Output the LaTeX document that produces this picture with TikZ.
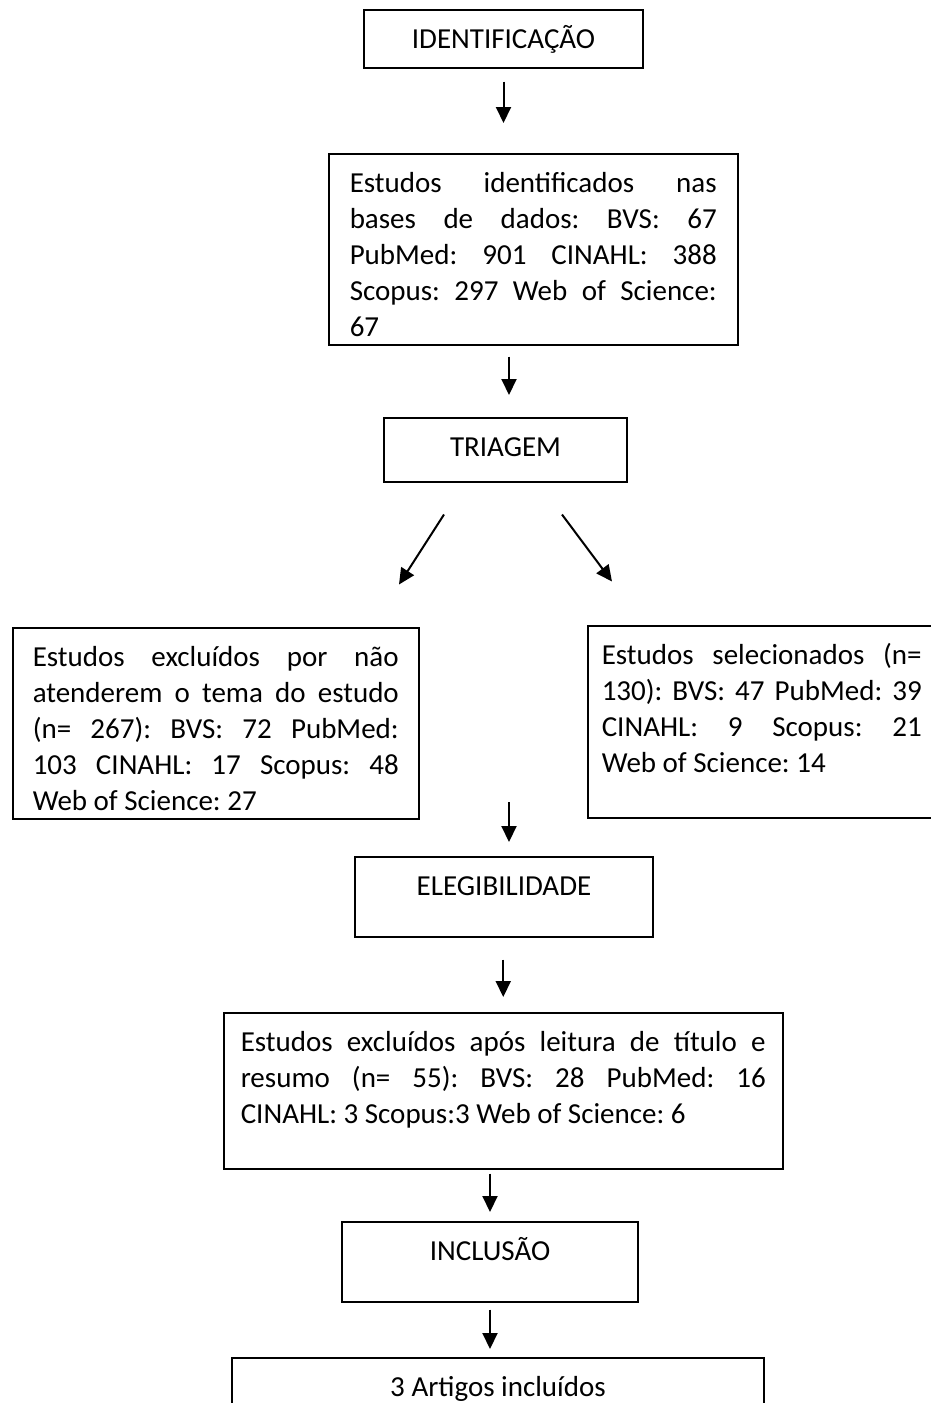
\documentclass[tikz,border=0pt]{standalone}
\usepackage{fontspec}
\setmainfont{Carlito}
\usetikzlibrary{arrows.meta}
\frenchspacing
\begin{document}
\begin{tikzpicture}[x=1pt,y=-1pt,
    etapa/.style={draw,line width=1.5pt,inner xsep=0pt,inner ysep=0pt,text height=39pt,anchor=north,font=\fontsize{29}{36}\selectfont},
    caixa/.style={draw,line width=1.5pt,inner ysep=0pt,text height=39pt,align=justify,anchor=north west,font=\fontsize{29}{36}\selectfont},
    seta/.style={line width=2pt,-{Triangle[width=15pt,length=16pt]}}]
                \useasboundingbox (0,0) rectangle (931,1403);
                \clip (0,0) rectangle (931,1403);
                \node[etapa,minimum width=279pt,text depth=19pt] (ident) at (503.5,9) {IDENTIFICAÇÃO};
                \node[caixa,inner xsep=21pt,text width=367pt,text depth=152pt] (estudos) at (328,153) {Estudos identificados nas\linebreak bases de dados: BVS: 67\linebreak PubMed: 901 CINAHL: 388\linebreak Scopus: 297 Web of Science:\linebreak 67};
                \node[etapa,minimum width=243pt,text depth=25pt] (triagem) at (505.5,417) {TRIAGEM};
                \node[caixa,inner xsep=20pt,text width=366pt,text depth=152pt] (excl) at (12,627) {Estudos excluídos por não\linebreak atenderem o tema do estudo\linebreak (n= 267): BVS: 72 PubMed:\linebreak 103 CINAHL: 17 Scopus: 48\linebreak Web of Science: 27};
                \node[caixa,inner xsep=14pt,text width=320pt,text depth=153pt] (sel) at (587,625) {Estudos selecionados (n=\linebreak 130): BVS: 47 PubMed: 39\linebreak CINAHL: 9 Scopus: 21\linebreak Web of Science: 14};
                \node[etapa,minimum width=298pt,text depth=41pt] (eleg) at (504,856) {ELEGIBILIDADE};
                \node[caixa,inner xsep=17pt,text width=525pt,text depth=117pt] (excl2) at (223,1012) {Estudos excluídos após leitura de título e\linebreak resumo (n= 55): BVS: 28 PubMed: 16\linebreak CINAHL: 3 Scopus:3 Web of Science: 6};
                \node[etapa,minimum width=296pt,text depth=41pt] (incl) at (490,1221) {INCLUSÃO};
                \node[etapa,minimum width=532pt,text depth=60pt] (artigos) at (498,1357) {3 Artigos incluídos};
                % setas
                \draw[seta,shorten <=13pt,shorten >=30pt] (ident.south) -- (ident.south |- estudos.north);
                \draw[seta,shorten <=11pt,shorten >=22pt] ([xshift=3.5pt]triagem.north |- estudos.south) -- ([xshift=3.5pt]triagem.north);
                \draw[seta] ([shift={(-61.5,32)}]triagem.south) -- ([shift={(-106.5,102)}]triagem.south);
                \draw[seta] ([shift={(56.5,32)}]triagem.south) -- ([shift={(106.5,99)}]triagem.south);
                \draw[seta] ([shift={(5,-54)}]eleg.north) -- ([shift={(5,-14)}]eleg.north);
                \draw[seta,shorten <=22pt,shorten >=15pt] (eleg.south -| excl2.north) -- (excl2.north);
                \draw[seta,shorten <=4pt,shorten >=9pt] (incl.north |- excl2.south) -- (incl.north);
                \draw[seta,shorten <=7pt,shorten >=8pt] (incl.south) -- (incl.south |- artigos.north);
            \end{tikzpicture}
\end{document}
